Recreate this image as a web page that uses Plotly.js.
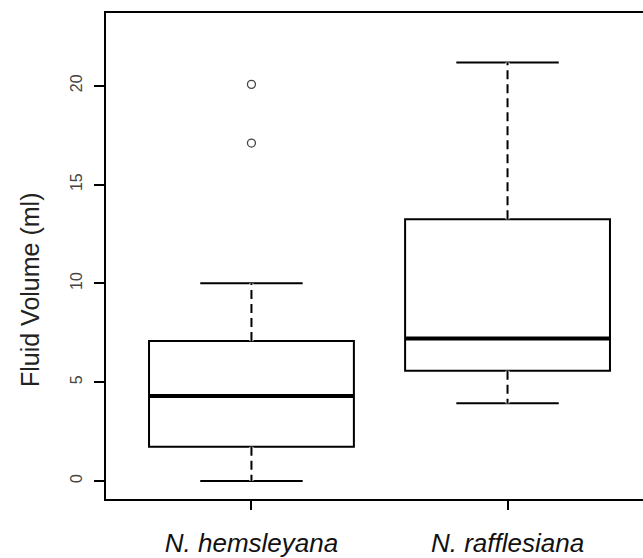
<!DOCTYPE html>
<html>
<head>
<meta charset="utf-8">
<script src="https://cdn.plot.ly/plotly-3.0.1.min.js"></script>
<style>html,body{margin:0;padding:0;background:#fff;overflow:hidden;}</style>
</head>
<body>
<div id="chart" style="width:643px;height:558px;"></div>
<script>
// ---- data ----
const categories = ['N. hemsleyana', 'N. rafflesiana'];
const lowerWhisker = [0.0, 3.93];
const q1 = [1.73, 5.58];
const median = [4.30, 7.21];
const q3 = [7.08, 13.25];
const upperWhisker = [10.0, 21.17];
const outlierGroup = [0, 0];          // index of the category each outlier belongs to
const outlierValues = [20.07, 17.1];
const yTickVals = [0, 5, 10, 15, 20];
const yTitle = 'Fluid Volume (ml)';

// ---- build traces ----
const xs = categories.map((_, i) => i);
const boxWidth = 0.8;
const traces = [];

traces.push({
  type: 'box',
  x: xs,
  q1: q1, median: median, q3: q3,
  lowerfence: lowerWhisker, upperfence: upperWhisker,
  width: boxWidth,
  whiskerwidth: 0.5,
  boxpoints: false,
  fillcolor: '#ffffff',
  line: {color: '#000000', width: 2},
  hoverinfo: 'skip',
  showlegend: false
});

// whisker segments (upper and lower) for each category
const wx = [], wy = [];
xs.forEach((x, i) => {
  wx.push(x, x, null, x, x, null);
  wy.push(q3[i], upperWhisker[i], null, q1[i], lowerWhisker[i], null);
});
// white underlay hides the solid whisker from the box trace
traces.push({
  type: 'scatter', mode: 'lines', x: wx, y: wy,
  line: {color: '#ffffff', width: 4}, hoverinfo: 'skip', showlegend: false
});
// dashed whiskers, drawn from the box outwards
traces.push({
  type: 'scatter', mode: 'lines', x: wx, y: wy,
  line: {color: '#000000', width: 2, dash: '9px,5px'}, hoverinfo: 'skip', showlegend: false
});

// thick median lines
const mx = [], my = [];
xs.forEach((x, i) => {
  mx.push(x - boxWidth / 2, x + boxWidth / 2, null);
  my.push(median[i], median[i], null);
});
traces.push({
  type: 'scatter', mode: 'lines', x: mx, y: my,
  line: {color: '#000000', width: 4}, hoverinfo: 'skip', showlegend: false
});

// outliers
traces.push({
  type: 'scatter', mode: 'markers',
  x: outlierGroup.map(g => xs[g]), y: outlierValues,
  marker: {symbol: 'circle-open', size: 8, color: '#444444', line: {width: 1.3}},
  hoverinfo: 'skip', showlegend: false
});

const layout = {
  width: 643, height: 558,
  margin: {l: 106, r: 0, t: 13, b: 59},
  paper_bgcolor: '#ffffff', plot_bgcolor: '#ffffff',
  font: {family: 'Liberation Sans, Arial, sans-serif', color: '#000'},
  showlegend: false,
  xaxis: {
    range: [-0.568, 1.529],
    tickmode: 'array', tickvals: xs, ticktext: categories,
    ticks: 'outside', ticklen: 9, tickwidth: 2, tickcolor: '#000',
    showline: true, linecolor: '#000', linewidth: 2, mirror: true,
    showgrid: false, zeroline: false,
    tickfont: {size: 26, family: 'Liberation Sans, Arial, sans-serif', style: 'italic', color: '#111'},
    ticklabelstandoff: 11
  },
  yaxis: {
    range: [-0.91, 23.68],
    tickmode: 'array', tickvals: yTickVals, ticktext: yTickVals.map(String),
    ticks: 'outside', ticklen: 10, tickwidth: 2, tickcolor: '#000',
    showline: true, linecolor: '#000', linewidth: 2, mirror: false,
    showgrid: false, zeroline: false,
    tickangle: -90,
    tickfont: {size: 16, color: '#444'},
    ticklabelstandoff: 6
  },
  annotations: [{
    text: yTitle, xref: 'paper', yref: 'paper',
    x: -0.1415, y: 0.43, xanchor: 'center', yanchor: 'middle',
    textangle: -90, showarrow: false,
    font: {size: 25, color: '#222', family: 'Liberation Sans, Arial, sans-serif'}
  }]
};

Plotly.newPlot('chart', traces, layout, {staticPlot: true, displayModeBar: false});
</script>
</body>
</html>
